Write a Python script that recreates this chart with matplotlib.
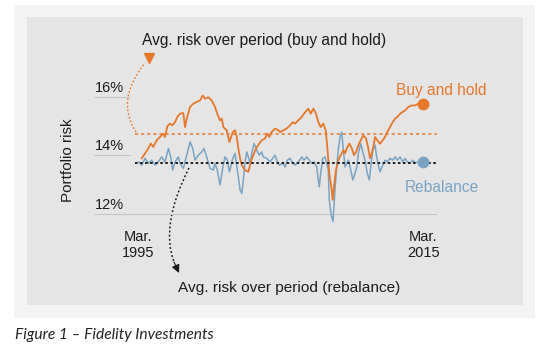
import matplotlib.pyplot as plt
from matplotlib.patches import Rectangle, PathPatch
from matplotlib.path import Path

# ---- data ----
buy_years = [1995.44, 1995.67, 1995.90, 1996.07, 1996.25, 1996.49, 1996.72, 1996.95, 1997.07, 1997.24,
             1997.42, 1997.59, 1997.78, 1997.94, 1998.13, 1998.36, 1998.48, 1998.60, 1998.83, 1999.06,
             1999.30, 1999.53, 1999.72, 1999.88, 2000.11, 2000.35, 2000.58, 2000.74, 2000.93, 2001.05,
             2001.17, 2001.40, 2001.59, 2001.83, 2001.99, 2002.11, 2002.22, 2002.34, 2002.46, 2002.69,
             2002.92, 2003.09, 2003.27, 2003.46, 2003.69, 2003.86, 2004.09, 2004.25, 2004.39, 2004.56,
             2004.79, 2005.03, 2005.14, 2005.38, 2005.61, 2005.85, 2006.04, 2006.20, 2006.43, 2006.67,
             2006.83, 2007.02, 2007.13, 2007.30, 2007.48, 2007.67, 2007.83, 2008.00, 2008.18, 2008.35,
             2008.46, 2008.60, 2008.77, 2008.84, 2008.93, 2009.07, 2009.24, 2009.40, 2009.59, 2009.71,
             2009.83, 2010.01, 2010.18, 2010.34, 2010.48, 2010.64, 2010.81, 2010.99, 2011.18, 2011.34,
             2011.46, 2011.58, 2011.69, 2011.81, 2011.97, 2012.16, 2012.35, 2012.51, 2012.67, 2012.86,
             2013.05, 2013.22, 2013.38, 2013.57, 2013.76, 2013.92, 2014.15, 2014.39, 2014.62, 2014.85,
             2015.20]
buy_risk = [13.90, 14.07, 14.24, 14.41, 14.29, 14.52, 14.63, 14.75, 14.63, 15.00,
            15.09, 15.03, 15.14, 15.32, 15.43, 15.45, 14.97, 15.26, 15.66, 15.77,
            15.83, 15.88, 16.05, 15.94, 15.99, 15.88, 15.66, 15.43, 15.20, 15.26,
            14.97, 14.86, 14.46, 14.80, 14.86, 14.63, 14.24, 13.90, 13.67, 13.50,
            13.44, 13.78, 14.01, 14.24, 14.41, 14.52, 14.58, 14.75, 14.63, 14.80,
            14.92, 14.86, 14.80, 14.86, 14.92, 15.03, 15.14, 15.09, 15.20, 15.32,
            15.43, 15.54, 15.60, 15.43, 15.60, 15.43, 15.14, 14.97, 15.09, 14.86,
            14.29, 13.39, 12.82, 12.48, 12.93, 13.50, 13.84, 14.01, 14.18, 14.07,
            14.24, 14.41, 14.24, 14.01, 14.12, 14.35, 14.52, 14.69, 14.58, 14.24,
            13.90, 14.07, 14.29, 14.63, 14.52, 14.40, 14.52, 14.63, 14.80, 14.97,
            15.14, 15.26, 15.32, 15.43, 15.49, 15.54, 15.66, 15.71, 15.71, 15.77,
            15.77]

reb_years = [1995.20, 1995.44, 1995.67, 1995.90, 1996.14, 1996.37, 1996.60, 1996.84, 1997.07, 1997.31,
             1997.47, 1997.61, 1997.78, 1998.01, 1998.13, 1998.36, 1998.60, 1998.83, 1999.02, 1999.18,
             1999.41, 1999.65, 1999.81, 2000.00, 2000.23, 2000.46, 2000.58, 2000.74, 2000.93, 2001.12,
             2001.28, 2001.45, 2001.59, 2001.83, 2001.99, 2002.11, 2002.22, 2002.34, 2002.46, 2002.57,
             2002.69, 2002.81, 2002.92, 2003.04, 2003.16, 2003.32, 2003.51, 2003.69, 2003.86, 2003.97,
             2004.21, 2004.44, 2004.63, 2004.79, 2004.96, 2005.10, 2005.33, 2005.50, 2005.66, 2005.85,
             2006.04, 2006.20, 2006.43, 2006.67, 2006.83, 2007.02, 2007.20, 2007.37, 2007.53, 2007.72,
             2007.83, 2007.90, 2008.00, 2008.14, 2008.30, 2008.42, 2008.53, 2008.60, 2008.72, 2008.86,
             2009.00, 2009.12, 2009.24, 2009.36, 2009.47, 2009.59, 2009.71, 2009.83, 2009.94, 2010.11,
             2010.25, 2010.41, 2010.53, 2010.64, 2010.81, 2010.95, 2011.11, 2011.27, 2011.41, 2011.51,
             2011.65, 2011.81, 2011.93, 2012.04, 2012.16, 2012.35, 2012.51, 2012.67, 2012.86, 2013.05,
             2013.22, 2013.38, 2013.57, 2013.76, 2013.92, 2014.08, 2014.27, 2014.46, 2014.62, 2014.85,
             2015.20]
reb_risk = [13.78, 13.67, 13.90, 13.73, 13.84, 13.67, 13.78, 13.95, 13.78, 14.24,
            13.95, 13.50, 13.78, 13.95, 13.73, 13.56, 14.01, 14.46, 14.24, 13.84,
            14.01, 14.12, 14.24, 13.95, 13.56, 13.50, 13.73, 13.50, 12.99, 13.56,
            13.95, 13.84, 13.44, 13.90, 14.07, 13.61, 13.27, 12.82, 12.70, 13.16,
            13.78, 14.12, 13.95, 13.73, 14.07, 14.41, 14.18, 14.01, 14.12, 13.95,
            13.90, 13.78, 13.90, 14.01, 13.78, 13.67, 13.73, 13.61, 13.84, 13.90,
            13.73, 13.67, 13.78, 13.95, 13.84, 13.95, 13.84, 13.73, 13.78, 13.61,
            13.16, 12.93, 13.39, 13.90, 13.95, 13.73, 13.50, 12.48, 12.00, 11.74,
            12.82, 13.61, 14.24, 14.63, 14.80, 14.18, 13.61, 13.73, 13.84, 13.50,
            13.16, 13.39, 13.61, 14.07, 14.41, 14.12, 13.84, 13.39, 13.16, 13.61,
            14.18, 14.35, 13.95, 13.67, 13.44, 13.67, 13.84, 13.78, 13.90, 13.84,
            13.95, 13.84, 13.95, 13.78, 13.90, 13.78, 13.73, 13.84, 13.75, 13.78,
            13.78]

buy_avg = 14.75
reb_avg = 13.75
tick_vals = [16, 14, 12]
end_years = [1995.2, 2015.2]
end_labels = ["Mar.\n1995", "Mar.\n2015"]

ORANGE = "#e5782a"
BLUE = "#7ba4c4"
INK = "#1c1c1c"
W, H = 550, 360

plt.rcParams['font.family'] = ['Liberation Sans', 'DejaVu Sans']

fig = plt.figure(figsize=(5.5, 3.6), dpi=100)
fig.patch.set_facecolor('white')

# pixel-space layer for panel, notes and arrows
bg = fig.add_axes([0, 0, 1, 1])
bg.set_xlim(0, W)
bg.set_ylim(H, 0)
bg.axis('off')
bg.add_patch(Rectangle((14, 5), 521, 313, facecolor='#f3f3f3', edgecolor='none'))
bg.add_patch(Rectangle((27, 17), 496, 288, facecolor='#e5e5e5', edgecolor='none'))

# data axes
ax = fig.add_axes([94 / W, 1 - 228.6 / H, 343 / W, 160.9 / H])
ax.patch.set_alpha(0)
for s in ax.spines.values():
    s.set_visible(False)
x0, x1 = 1992.09, 2016.16
ax.set_xlim(x0, x1)
ax.set_ylim(11.5, 17.0)

for v in tick_vals:
    ax.axhline(v, xmin=0, xmax=1 if v == 12 else 0.105, color='#c6c6c6', lw=0.8, zorder=1)
    ax.text(x0 + 0.05, v + 0.07, f"{v}%", ha='left', va='bottom', fontsize=10.5, color=INK)

ax.hlines(buy_avg, 1994.97, x1, colors=ORANGE, linestyles=(0, (2, 2)), lw=1.1, zorder=2)
ax.plot(reb_years, reb_risk, color=BLUE, lw=1.1, zorder=3)
ax.plot(buy_years, buy_risk, color=ORANGE, lw=1.3, zorder=4)
ax.hlines(reb_avg, 1994.97, x1, colors=INK, linestyles=(0, (1.3, 1.3)), lw=1.4, zorder=5)
ax.plot(buy_years[-1], buy_risk[-1], 'o', color=ORANGE, ms=7.5, zorder=6)
ax.plot(reb_years[-1], reb_risk[-1], 'o', color=BLUE, ms=7.5, zorder=6)

ax.set_yticks([])
ax.set_xticks(end_years, end_labels)
ax.tick_params(axis='x', length=0, pad=1, labelsize=10.5, labelcolor=INK)
for lbl in ax.get_xticklabels():
    lbl.set_linespacing(1.2)

# notes
bg.text(142, 40, "Avg. risk over period (buy and hold)", va='center', ha='left', fontsize=11.2, color=INK)
bg.text(396, 91, "Buy and hold", va='center', ha='left', fontsize=11.2, color=ORANGE)
bg.text(405, 188, "Rebalance", va='center', ha='left', fontsize=11.2, color=BLUE)
bg.text(178, 288, "Avg. risk over period (rebalance)", va='center', ha='left', fontsize=11.1, color=INK)
bg.text(68, 160, "Portfolio risk", rotation=90, ha='center', va='center', fontsize=11, color=INK)
bg.text(14.7, 334.6, "Figure 1 \u2013 Fidelity Investments", va='center', ha='left',
        fontsize=11.2, fontstyle='italic', family=['Lato', 'DejaVu Sans'], color='#222222')

# curved pointers
orange_curve = Path([(136, 132), (115, 100), (145, 63)], [Path.MOVETO, Path.CURVE3, Path.CURVE3])
bg.add_patch(PathPatch(orange_curve, facecolor='none', edgecolor=ORANGE, lw=1.0, linestyle=(0, (1.2, 1.5))))
bg.plot(149, 58, marker='v', color=ORANGE, ms=7.5)

black_curve = Path([(189, 168), (160, 225), (174, 262)], [Path.MOVETO, Path.CURVE3, Path.CURVE3])
bg.add_patch(PathPatch(black_curve, facecolor='none', edgecolor=INK, lw=1.1, linestyle=(0, (1.2, 1.5))))
bg.annotate('', xy=(179, 273), xytext=(174, 262),
            arrowprops=dict(arrowstyle='-|>', color=INK, lw=0.8, mutation_scale=12, shrinkA=0, shrinkB=0))

fig.savefig('out.png', dpi=100)
